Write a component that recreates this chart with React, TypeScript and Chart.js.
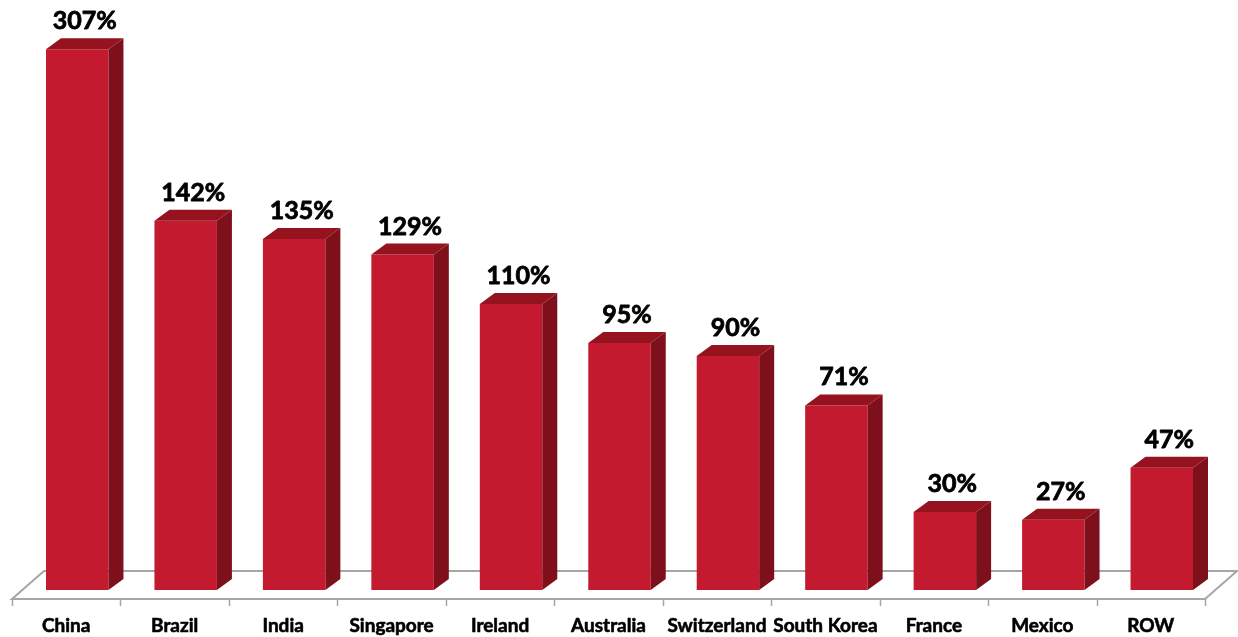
import React, { useEffect, useRef } from "react";
import { Chart, registerables } from "chart.js";

Chart.register(...registerables);

// ---- data ----
const categories = [
  "China",
  "Brazil",
  "India",
  "Singapore",
  "Ireland",
  "Australia",
  "Switzerland",
  "South Korea",
  "France",
  "Mexico",
  "ROW",
];
const growthPct = [307, 142, 135, 129, 110, 95, 90, 71, 30, 27, 47];
// In the original the China bar is shortened (broken axis); bars are capped at this value
const BAR_CAP = 208;

// ---- style ----
const FRONT = "#C41A2F";
const TOP = "#95131F";
const SIDE = "#7E101B";
const DEPTH_X = 15;
const DEPTH_Y = -11;
const FLOOR_SHIFT = 11;
const FONT = "Lato, 'Open Sans', sans-serif";

function boldText(ctx: CanvasRenderingContext2D, t: string, x: number, y: number, extra: number) {
  ctx.fillText(t, x, y);
  ctx.lineWidth = extra;
  ctx.strokeStyle = "#000";
  ctx.lineJoin = "round";
  ctx.strokeText(t, x, y);
}

const threeD = {
  id: "threeD",
  beforeDatasetsDraw(chart: any) {
    const { ctx, chartArea, scales } = chart;
    const xs = scales.x;
    const n = categories.length;
    const base = chartArea.bottom;
    const fy = base + 9;
    const by = base - 19;
    const bdx = 32;
    const left = xs.getPixelForValue(-0.5) - FLOOR_SHIFT;
    const right = xs.getPixelForValue(n - 0.5) - FLOOR_SHIFT;
    ctx.save();
    ctx.strokeStyle = "#A6A6A6";
    ctx.lineWidth = 2;
    ctx.beginPath();
    ctx.moveTo(left, fy);
    ctx.lineTo(right, fy);
    ctx.lineTo(right + bdx, by);
    ctx.lineTo(left + bdx, by);
    ctx.closePath();
    ctx.stroke();
    ctx.lineWidth = 1.5;
    for (let i = 0; i <= n; i++) {
      const px = Math.round(xs.getPixelForValue(i - 0.5) - FLOOR_SHIFT) + 0.5;
      ctx.beginPath();
      ctx.moveTo(px, fy);
      ctx.lineTo(px, fy + 7);
      ctx.stroke();
    }
    ctx.fillStyle = "#000";
    ctx.font = `bold 19px ${FONT}`;
    ctx.textAlign = "center";
    ctx.textBaseline = "alphabetic";
    categories.forEach((c, i) => {
      boldText(ctx, c, xs.getPixelForValue(i) - FLOOR_SHIFT, base + 42, 0.6);
    });
    ctx.restore();
  },
  afterDatasetsDraw(chart: any) {
    const { ctx } = chart;
    const meta = chart.getDatasetMeta(0);
    ctx.save();
    meta.data.forEach((bar: any, i: number) => {
      const { x, y, base, width } = bar.getProps(["x", "y", "base", "width"], true);
      const l = x - width / 2;
      const r = x + width / 2;
      // side
      ctx.fillStyle = SIDE;
      ctx.beginPath();
      ctx.moveTo(r, y);
      ctx.lineTo(r + DEPTH_X, y + DEPTH_Y);
      ctx.lineTo(r + DEPTH_X, base + DEPTH_Y);
      ctx.lineTo(r, base);
      ctx.closePath();
      ctx.fill();
      // top
      ctx.fillStyle = TOP;
      ctx.beginPath();
      ctx.moveTo(l, y);
      ctx.lineTo(l + DEPTH_X, y + DEPTH_Y);
      ctx.lineTo(r + DEPTH_X, y + DEPTH_Y);
      ctx.lineTo(r, y);
      ctx.closePath();
      ctx.fill();
      // label
      ctx.fillStyle = "#000";
      ctx.font = `bold 25px ${FONT}`;
      ctx.textAlign = "center";
      ctx.textBaseline = "alphabetic";
      boldText(ctx, `${growthPct[i]}%`, x + DEPTH_X / 2, y + DEPTH_Y - 9, 0.8);
    });
    ctx.restore();
  },
};

export default function App() {
  const ref = useRef<HTMLCanvasElement | null>(null);
  useEffect(() => {
    if (!ref.current) return;
    const chart = new Chart(ref.current, {
      type: "bar",
      data: {
        labels: categories,
        datasets: [
          {
            data: growthPct.map((v) => Math.min(v, BAR_CAP)),
            backgroundColor: FRONT,
            borderWidth: 0,
            barPercentage: 0.576,
            categoryPercentage: 1,
          },
        ],
      },
      options: {
        responsive: false,
        animation: false,
        devicePixelRatio: 1,
        layout: { padding: { left: 23, right: 22, top: 18, bottom: 47 } },
        scales: {
          x: { display: false },
          y: { display: false, min: 0, max: 220 },
        },
        plugins: { legend: { display: false }, tooltip: { enabled: false } },
      },
      plugins: [threeD],
    });
    return () => chart.destroy();
  }, []);
  return (
    <div style={{ position: "absolute", left: 0, top: 0, width: 1238, height: 637, background: "#fff" }}>
      <canvas ref={ref} width={1238} height={637} />
    </div>
  );
}
